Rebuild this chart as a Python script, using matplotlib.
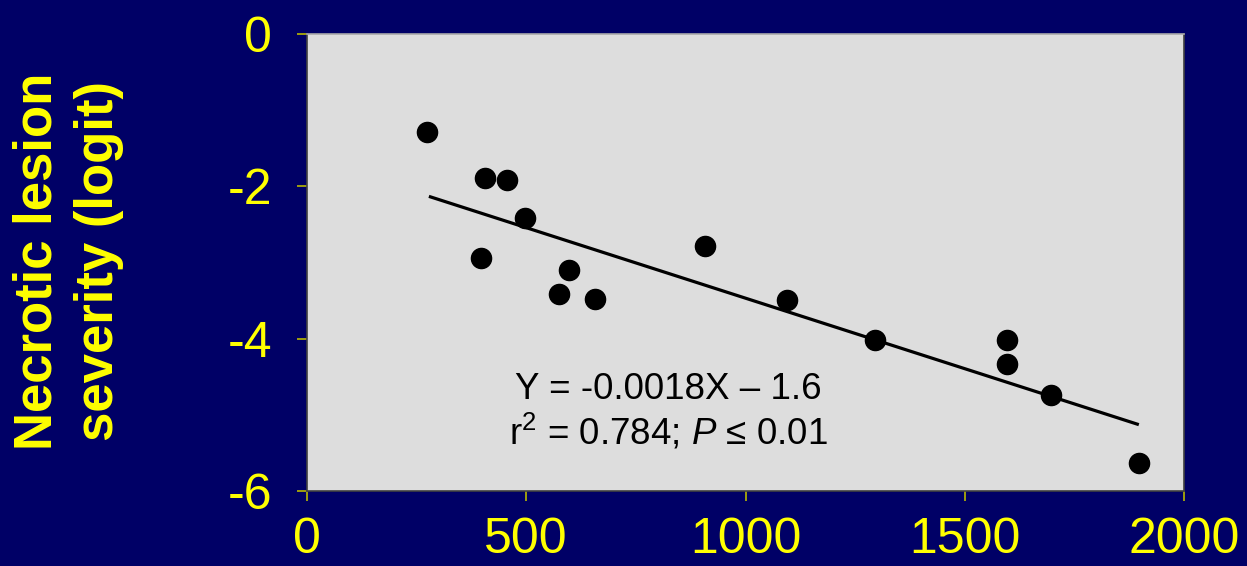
import numpy as np
import matplotlib
matplotlib.use("Agg")
import matplotlib.pyplot as plt

# Data
x_vals = [274, 406, 456, 497, 397, 597, 575, 657, 908, 1095, 1295, 1596, 1596, 1697, 1897]
y_vals = [-1.29, -1.89, -1.92, -2.42, -2.94, -3.10, -3.42, -3.48, -2.79, -3.49, -4.02, -4.02, -4.34, -4.74, -5.63]
# Regression line as drawn in the reference
fit_slope = -0.00185
fit_intercept = -1.62
x_ticks = [0, 500, 1000, 1500, 2000]
y_ticks = [0, -2, -4, -6]
y_label = "Necrotic lesion\nseverity (logit)"
eq_line1 = "Y = -0.0018X \u2013 1.6"
eq_line2 = "r$^{2}$ = 0.784; $\\mathit{P}$ \u2264 0.01"

BG = "#000066"
PANEL = "#DDDDDD"
YEL = "#FFFF00"

plt.rcParams["font.family"] = ["Liberation Sans", "DejaVu Sans"]
plt.rcParams["mathtext.fontset"] = "custom"
plt.rcParams["mathtext.rm"] = "Liberation Sans"
plt.rcParams["mathtext.it"] = "Liberation Sans:italic"
plt.rcParams["mathtext.bf"] = "Liberation Sans:bold"

fig = plt.figure(figsize=(12.47, 5.66), dpi=100, facecolor=BG)
ax = fig.add_axes([307 / 1247, 1 - 491 / 566, (1184 - 307) / 1247, (491 - 33.7) / 566])
ax.set_facecolor(PANEL)

x = np.array(x_vals, dtype=float)
y = np.array(y_vals, dtype=float)
xl = np.array([x.min() + 4, x.max()])
ax.plot(xl, fit_slope * xl + fit_intercept, color="black", lw=2.3, solid_capstyle="butt", zorder=2)
ax.plot(x, y, "o", color="black", ms=14.5, zorder=3)

ax.set_xlim(0, 2000)
ax.set_ylim(-6, 0)
ax.set_xticks(x_ticks)
ax.set_yticks(y_ticks)
ax.set_xticklabels([str(v) for v in x_ticks])
ax.set_yticklabels([str(v) for v in y_ticks])
ax.tick_params(axis="both", direction="out", length=7, width=1.2, color="#B8B800",
               labelcolor=YEL, labelsize=36)
ax.tick_params(axis="x", pad=12)
ax.tick_params(axis="y", pad=18)

for side in ["left", "bottom", "right"]:
    ax.spines[side].set_color("#404040")
    ax.spines[side].set_linewidth(1.2)
ax.spines["top"].set_color("#AAAAAA")
ax.spines["top"].set_linewidth(1.2)

ax.text(0.412, 0.222, eq_line1, transform=ax.transAxes, ha="center", va="center",
        fontsize=26.5, color="black")
ax.text(0.412, 0.128, eq_line2, transform=ax.transAxes, ha="center", va="center",
        fontsize=26.5, color="black")

fig.text(0.055, 0.539, y_label, rotation=90, ha="center", va="center",
         fontsize=38, fontweight="bold", color=YEL, linespacing=1.3)

fig.savefig("out.png", dpi=100, facecolor=BG)
